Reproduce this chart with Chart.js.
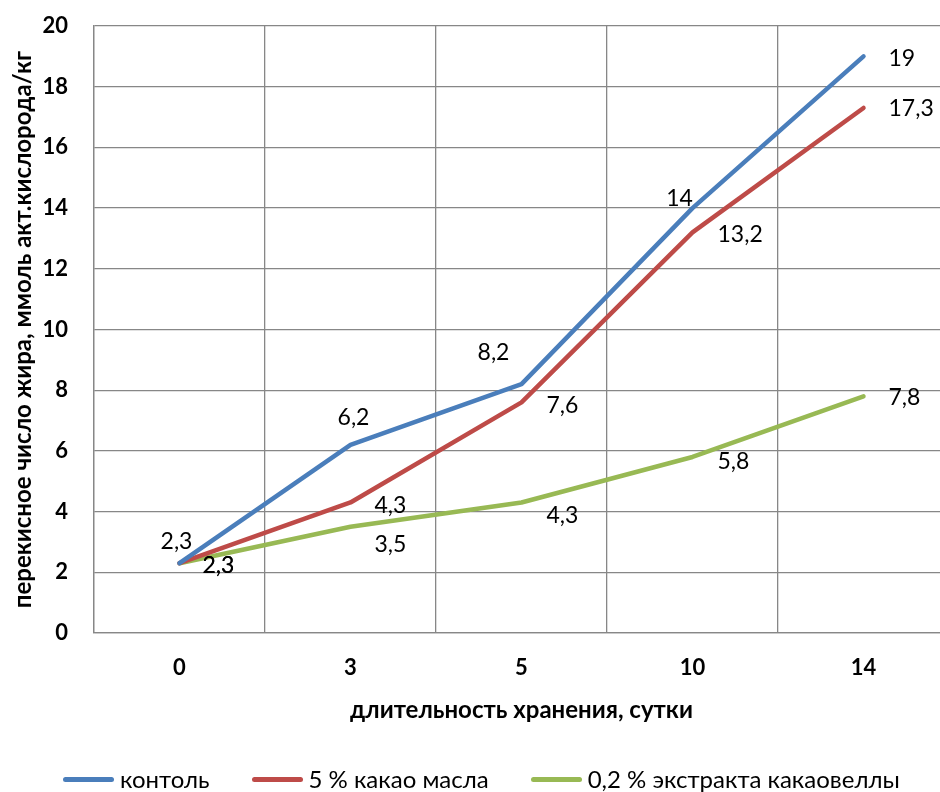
<!DOCTYPE html>
<html lang="ru">
<head>
<meta charset="utf-8">
<title>Перекисное число жира</title>
<script src="https://cdn.jsdelivr.net/npm/chart.js@4.4.1/dist/chart.umd.min.js"></script>
<style>
  html, body { margin: 0; padding: 0; background: #fff; overflow: hidden; }
  .wrap { position: relative; width: 940px; height: 792px; overflow: hidden; }
  #peroxide-chart { position: absolute; left: 0; top: 0; }
  #legend { position: absolute; left: 63px; top: 765px; }
  #legend ul { list-style: none; margin: 0; padding: 0; display: flex; gap: 42px; }
  #legend li { display: flex; align-items: center; font: 24px Lato, sans-serif; color: #000; line-height: 28px; white-space: nowrap; }
  #legend .swatch { display: inline-block; width: 51px; height: 5px; border-radius: 3px; margin-right: 6px; }
</style>
</head>
<body>
<div class="wrap">
  <canvas id="peroxide-chart" width="960" height="792"></canvas>
  <div id="legend"></div>
</div>
<script>
// storage time, days
const days = ['0', '3', '5', '10', '14'];

// peroxide value, mmol act. oxygen / kg
const control = [2.3, 6.2, 8.2, 14, 19];
const cocoaButter = [2.3, 4.3, 7.6, 13.2, 17.3];
const shellExtract = [2.3, 3.5, 4.3, 5.8, 7.8];

const seriesNames = ['контоль', '5 % какао масла', '0,2 % экстракта какаовеллы'];
const seriesColors = ['#4A7EBB', '#BE4B48', '#98B954'];

// value label placement next to each point: [dx, dy, align]
const controlLabelPos = [[-3, -22, 'center'], [3, -27, 'center'], [-28, -32, 'center'], [-13, -10, 'center'], [25, 2, 'left']];
const cocoaLabelPos = [[23, 2, 'left'], [24, 3, 'left'], [25, 3, 'left'], [25, 2, 'left'], [25, 1, 'left']];
const extractLabelPos = [[23, 2, 'left'], [24, 18, 'left'], [25, 13, 'left'], [25, 5, 'left'], [25, 1, 'left']];
const labelPos = [controlLabelPos, cocoaLabelPos, extractLabelPos];

const gridColor = '#878787';
const fontFamily = 'Lato, sans-serif';

const valueLabels = {
  id: 'valueLabels',
  afterDatasetsDraw(chart) {
    const ctx = chart.ctx;
    ctx.save();
    ctx.font = '23px ' + fontFamily;
    ctx.fillStyle = '#000';
    ctx.textBaseline = 'middle';
    chart.data.datasets.forEach((ds, i) => {
      const meta = chart.getDatasetMeta(i);
      meta.data.forEach((pt, j) => {
        const [dx, dy, align] = labelPos[i][j];
        ctx.textAlign = align;
        ctx.fillText(String(ds.data[j]).replace('.', ','), pt.x + dx, pt.y + dy);
      });
    });
    ctx.restore();
  }
};

// html legend built from the datasets
const htmlLegend = {
  id: 'htmlLegend',
  afterUpdate(chart) {
    const box = document.getElementById('legend');
    const ul = document.createElement('ul');
    chart.data.datasets.forEach(ds => {
      const li = document.createElement('li');
      const sw = document.createElement('span');
      sw.className = 'swatch';
      sw.style.background = ds.borderColor;
      li.appendChild(sw);
      li.appendChild(document.createTextNode(ds.label));
      ul.appendChild(li);
    });
    box.innerHTML = '';
    box.appendChild(ul);
  }
};

const lineStyle = (idx, data) => ({
  label: seriesNames[idx],
  data: data,
  borderColor: seriesColors[idx],
  backgroundColor: seriesColors[idx],
  borderWidth: 4.5,
  borderCapStyle: 'round',
  borderJoinStyle: 'round',
  pointRadius: 0,
  pointHoverRadius: 0,
  tension: 0,
  fill: false
});

new Chart(document.getElementById('peroxide-chart'), {
  type: 'line',
  data: {
    labels: days,
    datasets: [
      lineStyle(0, control),
      lineStyle(1, cocoaButter),
      lineStyle(2, shellExtract)
    ]
  },
  options: {
    responsive: false,
    animation: false,
    layout: { padding: { top: 26, right: 11, bottom: 67, left: 0 } },
    plugins: {
      legend: { display: false },
      tooltip: { enabled: false }
    },
    scales: {
      x: {
        offset: true,
        grid: { offset: true, color: gridColor, lineWidth: 1.3, drawTicks: false },
        border: { color: gridColor, width: 1.3 },
        ticks: { color: '#000', padding: 22, font: { family: fontFamily, size: 22, weight: 'bold' } },
        title: {
          display: true,
          text: 'длительность хранения, сутки',
          color: '#000',
          padding: { top: 0, bottom: 0 },
          font: { family: fontFamily, size: 24, weight: 'bold' }
        },
        afterFit(scale) { scale.height = 92; }
      },
      y: {
        min: 0,
        max: 20,
        // invisible tick marks keep the labels away from the axis line
        grid: { color: gridColor, lineWidth: 1.3, drawTicks: true, tickLength: 26, tickColor: 'rgba(0,0,0,0)' },
        border: { color: gridColor, width: 1.3 },
        ticks: { stepSize: 2, color: '#000', padding: 0, font: { family: fontFamily, size: 22, weight: 'bold' } },
        title: {
          display: true,
          text: 'перекисное число жира, ммоль акт.кислорода/кг',
          color: '#000',
          padding: { top: 9, bottom: 0 },
          font: { family: fontFamily, size: 24, weight: 'bold' }
        },
        afterFit(scale) { scale.width = 94; }
      }
    }
  },
  plugins: [valueLabels, htmlLegend]
});
</script>
</body>
</html>
